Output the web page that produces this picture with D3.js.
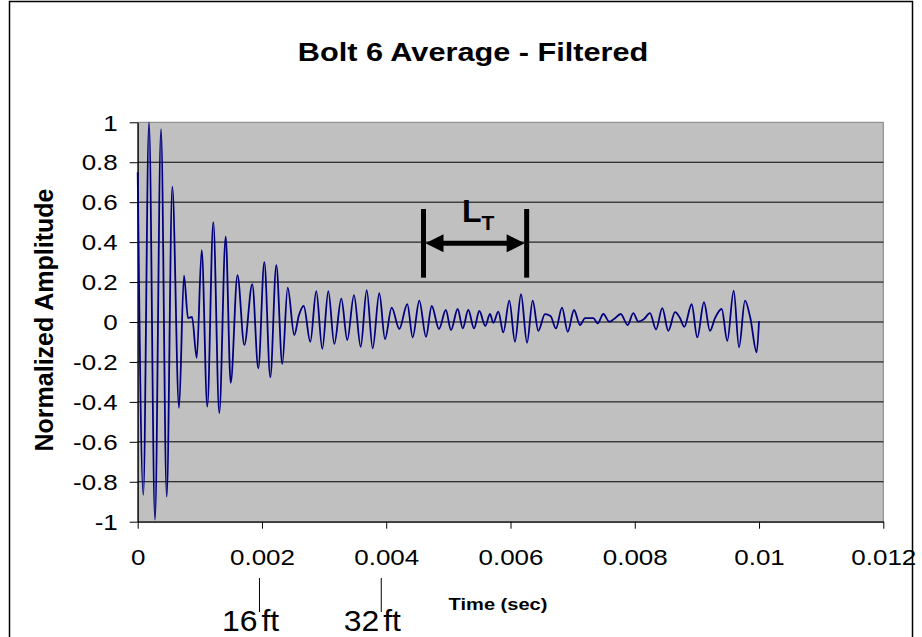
<!DOCTYPE html>
<html>
<head>
<meta charset="utf-8">
<script src="https://cdn.jsdelivr.net/npm/d3@7"></script>
<style>
  html, body { margin: 0; padding: 0; background: #fff; }
  svg { display: block; }
  text { font-family: "Liberation Sans", Arial, sans-serif; fill: #000; }
</style>
</head>
<body>
<svg id="chart" width="922" height="637"></svg>
<script>
// Filtered, averaged bolt signal: time (s) and normalized amplitude at each turning point
const timeSec = [
  0, 0.00009, 0.000182, 0.000278, 0.000375, 0.000467, 0.000557, 0.000665, 0.000745, 0.00081,
  0.000874, 0.00095, 0.00103, 0.00112, 0.001217, 0.001313, 0.001416, 0.001497, 0.001606, 0.001716,
  0.001844, 0.001941, 0.002038, 0.002134, 0.002231, 0.002327, 0.002414, 0.00252, 0.002596, 0.002672,
  0.002778, 0.002874, 0.002971, 0.003068, 0.003164, 0.003277, 0.003373, 0.003481, 0.003589, 0.003686,
  0.003782, 0.003888, 0.00398, 0.004088, 0.00421, 0.004339, 0.004426, 0.004532, 0.00464, 0.004732,
  0.004849, 0.004959, 0.005042, 0.00515, 0.005231, 0.005321, 0.005413, 0.005498, 0.005594, 0.00567,
  0.005723, 0.005804, 0.005884, 0.005981, 0.006072, 0.006169, 0.006266, 0.006357, 0.006447, 0.006555,
  0.006644, 0.006732, 0.006829, 0.006921, 0.007022, 0.007119, 0.0072, 0.007333, 0.007404, 0.007494,
  0.00759, 0.007666, 0.007774, 0.007886, 0.007976, 0.008057, 0.00814, 0.008245, 0.008342, 0.008443,
  0.00854, 0.008648, 0.008728, 0.008797, 0.008916, 0.009006, 0.009114, 0.00921, 0.009291, 0.009399,
  0.009489, 0.009592, 0.009678, 0.009774, 0.00986, 0.009962, 0.01
];
const amplitude = [
  0.75, -0.866, 1.0, -0.99, 0.966, -0.875, 0.678, -0.43, 0.232, 0.02,
  0.025, -0.18, 0.36, -0.424, 0.5, -0.456, 0.427, -0.305, 0.235, -0.115,
  0.19, -0.232, 0.30, -0.277, 0.285, -0.21, 0.172, -0.065, 0.035, 0.08,
  -0.099, 0.155, -0.135, 0.155, -0.11, 0.117, -0.09, 0.135, -0.124, 0.16,
  -0.132, 0.144, -0.085, 0.072, -0.035, 0.09, -0.077, 0.107, -0.074, 0.08,
  -0.035, 0.06, -0.04, 0.065, -0.032, 0.06, -0.032, 0.055, -0.019, 0.04,
  -0.004, 0.052, -0.052, 0.107, -0.099, 0.139, -0.104, 0.107, -0.044, 0.039,
  0.03, -0.032, 0.072, -0.049, 0.06, -0.015, 0.019, 0.019, -0.007, 0.04,
  0.002, 0.015, 0.04, -0.015, 0.044, 0.002, 0.012, 0.044, -0.037, 0.069,
  -0.044, 0.049, 0.02, -0.024, 0.089, -0.077, 0.099, -0.044, 0.019, 0.065,
  -0.094, 0.157, -0.127, 0.107, 0.02, -0.152, 0.005
];

// Axis ticks
const xTicks = [0, 0.002, 0.004, 0.006, 0.008, 0.01, 0.012];
const xTickLabels = ["0", "0.002", "0.004", "0.006", "0.008", "0.01", "0.012"];
const yTicks = [-1, -0.8, -0.6, -0.4, -0.2, 0, 0.2, 0.4, 0.6, 0.8, 1];
const yTickLabels = ["-1", "-0.8", "-0.6", "-0.4", "-0.2", "0", "0.2", "0.4", "0.6", "0.8", "1"];

// Travel-distance markers below the time axis
const markerFeet = ["16", "32"];
const markerTime = [0.00196, 0.00392];

// L_T span marker inside the plot
const spanLabel = "L";
const spanSub = "T";
const spanTime = [0.0046, 0.00626];
const spanBar = [0.222, 0.566];
const spanArrow = 0.394;

const titleText = "Bolt 6 Average - Filtered";
const xTitle = "Time (sec)";
const yTitle = "Normalized Amplitude";

// Text in this chart is drawn slightly wide
const SX = 1.18;

const svg = d3.select("#chart");
const plot = { left: 137.7, right: 883.3, top: 122.3, bottom: 521.7 };

const x = d3.scaleLinear().domain([0, 0.012]).range([plot.left, plot.right]);
const y = d3.scaleLinear().domain([-1, 1]).range([plot.bottom, plot.top]);

// outer chart frame
svg.append("rect")
  .attr("x", 9.5).attr("y", 1.5).attr("width", 903).attr("height", 700)
  .attr("fill", "#fff").attr("stroke", "#000").attr("stroke-width", 1.5);

// plot background
svg.append("rect")
  .attr("x", plot.left).attr("y", plot.top)
  .attr("width", plot.right - plot.left).attr("height", plot.bottom - plot.top)
  .attr("fill", "#c0c0c0").attr("stroke", "#808080").attr("stroke-width", 1);

// horizontal gridlines
svg.append("g").selectAll("line")
  .data(yTicks.filter(v => v > -1 && v < 1))
  .join("line")
  .attr("x1", plot.left).attr("x2", plot.right)
  .attr("y1", d => y(d)).attr("y2", d => y(d))
  .attr("stroke", "#000").attr("stroke-width", 1);

// y axis
const yAxis = svg.append("g")
  .attr("transform", `translate(${plot.left},0)`)
  .call(d3.axisLeft(y).tickValues(yTicks)
    .tickFormat((d, i) => yTickLabels[i]).tickSizeInner(8).tickSizeOuter(0));
yAxis.select(".domain").attr("stroke", "#000").attr("stroke-width", 1.2);
yAxis.selectAll(".tick line").attr("stroke", "#000");
yAxis.selectAll(".tick text")
  .attr("font-size", 22)
  .attr("text-anchor", "end")
  .attr("x", -20 / SX)
  .attr("dy", "0.35em")
  .attr("transform", `scale(${SX},1)`);

// x axis
const xAxis = svg.append("g")
  .attr("transform", `translate(0,${plot.bottom})`)
  .call(d3.axisBottom(x).tickValues(xTicks)
    .tickFormat((d, i) => xTickLabels[i]).tickSizeInner(7).tickSizeOuter(0));
xAxis.select(".domain").attr("stroke", "#000").attr("stroke-width", 1.2);
xAxis.selectAll(".tick line").attr("stroke", "#000");
xAxis.selectAll(".tick text")
  .attr("font-size", 22)
  .attr("text-anchor", "middle")
  .attr("x", 0)
  .attr("y", 43)
  .attr("dy", 0)
  .attr("transform", `scale(${SX},1)`);

// waveform
const pts = timeSec.map((t, i) => [t, amplitude[i]]);
const line = d3.line()
  .x(d => x(d[0]))
  .y(d => y(d[1]))
  .curve(d3.curveMonotoneX);
svg.append("path")
  .datum(pts)
  .attr("d", line)
  .attr("fill", "none")
  .attr("stroke", "#000080")
  .attr("stroke-width", 1.8)
  .attr("stroke-linejoin", "round");

// L_T span marker
const span = svg.append("g");
spanTime.forEach(t => {
  span.append("line")
    .attr("x1", x(t)).attr("x2", x(t))
    .attr("y1", y(spanBar[1])).attr("y2", y(spanBar[0]))
    .attr("stroke", "#000").attr("stroke-width", 5);
});
const ax0 = x(spanTime[0]) + 2, ax1 = x(spanTime[1]) - 2, ay = y(spanArrow);
const head = 18, half = 9;
span.append("line")
  .attr("x1", ax0 + head - 2).attr("x2", ax1 - head + 2)
  .attr("y1", ay).attr("y2", ay)
  .attr("stroke", "#000").attr("stroke-width", 5);
span.append("path")
  .attr("d", `M${ax0},${ay} L${ax0 + head},${ay - half} L${ax0 + head},${ay + half} Z`)
  .attr("fill", "#000");
span.append("path")
  .attr("d", `M${ax1},${ay} L${ax1 - head},${ay - half} L${ax1 - head},${ay + half} Z`)
  .attr("fill", "#000");
const lt = span.append("text")
  .attr("x", 462).attr("y", 222)
  .attr("font-size", 32).attr("font-weight", "bold");
lt.append("tspan").text(spanLabel);
lt.append("tspan").attr("dy", 8).attr("font-size", 21).text(spanSub);

// distance markers
markerTime.forEach((t, i) => {
  const mx = x(t);
  svg.append("line")
    .attr("x1", mx).attr("x2", mx).attr("y1", 578).attr("y2", 612)
    .attr("stroke", "#000").attr("stroke-width", 1);
  svg.append("text")
    .attr("transform", `translate(${mx - 2},631) scale(1.1,1)`)
    .attr("text-anchor", "end")
    .attr("font-size", 29)
    .text(markerFeet[i]);
  svg.append("text")
    .attr("transform", `translate(${mx + 2},631) scale(1.1,1)`)
    .attr("text-anchor", "start")
    .attr("font-size", 29)
    .text("ft");
});

// titles
svg.append("text")
  .attr("transform", `translate(473,61) scale(${SX},1)`)
  .attr("text-anchor", "middle")
  .attr("font-size", 26).attr("font-weight", "bold")
  .text(titleText);

svg.append("text")
  .attr("transform", `translate(498,610) scale(${SX},1)`)
  .attr("text-anchor", "middle")
  .attr("font-size", 17).attr("font-weight", "bold")
  .text(xTitle);

svg.append("text")
  .attr("transform", `translate(53,320) rotate(-90)`)
  .attr("text-anchor", "middle")
  .attr("font-size", 25).attr("font-weight", "bold")
  .text(yTitle);
</script>
</body>
</html>
